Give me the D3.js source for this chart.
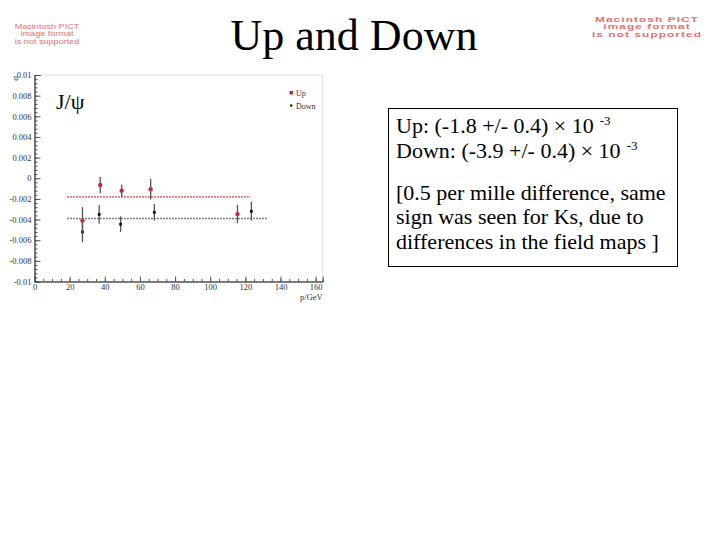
<!DOCTYPE html>
<html>
<head>
<meta charset="utf-8">
<script src="https://cdn.jsdelivr.net/npm/d3@7"></script>
<style>
	html, body { margin: 0; padding: 0; background: #fff; }
	svg { display: block; }
</style>
</head>
<body>
<div id="chart"></div>
<script>
// Data
const upX = [27.3, 37.4, 49.6, 66.1, 115.5];
const upY = [-0.0041, -0.00065, -0.0012, -0.00107, -0.00347];
const upErr = [0.0013, 0.0008, 0.0006, 0.001, 0.0009];

const downX = [27.3, 36.8, 49.0, 68.2, 123.4];
const downY = [-0.0052, -0.0035, -0.00445, -0.0033, -0.0032];
const downErr = [0.001, 0.0009, 0.00075, 0.0008, 0.0009];

const fitNames = ['Up', 'Down'];
const fitValues = [-0.0018, -0.0039];
const fitStart = [18.6, 18.6];
const fitEnd = [122.9, 132.6];

const xTicks = [0, 20, 40, 60, 80, 100, 120, 140, 160];
const yTicks = [0.01, 0.008, 0.006, 0.004, 0.002, 0, -0.002, -0.004, -0.006, -0.008, -0.01];
const yTickLabels = ['0.01', '0.008', '0.006', '0.004', '0.002', '0', '-0.002', '-0.004', '-0.006', '-0.008', '-0.01'];

const resultLines = [
	{ main: 'Up: (-1.8 +/- 0.4) \u00d7  10', sup: '-3' },
	{ main: 'Down:  (-3.9 +/- 0.4) \u00d7  10', sup: '-3' }
];
const commentLines = [
	'[0.5 per mille difference, same',
	'sign was seen for Ks, due to',
	'differences in the field maps ]'
];

const pictLines = ['Macintosh PICT', 'image format', 'is not supported'];

(function() {
	const W = 720, H = 540;
	const upColor = '#c8283c';
	const downColor = '#111';
	const serif = '"Liberation Serif", "Times New Roman", serif';

	const svg = d3.select('#chart').append('svg')
		.attr('width', W)
		.attr('height', H);

	// Title
	svg.append('text')
		.attr('x', 354)
		.attr('y', 50)
		.attr('text-anchor', 'middle')
		.style('font-family', serif)
		.style('font-size', '44px')
		.text('Up and Down');

	// Missing image placeholders
	function pict(cx, y0, size, step, bold, stretch, spacing) {
		const g = svg.append('g')
			.attr('transform', 'translate(' + cx + ',' + y0 + ') scale(' + stretch + ',1)');
		pictLines.forEach(function(t, i) {
			g.append('text')
				.attr('x', 0)
				.attr('y', i * step)
				.attr('text-anchor', 'middle')
				.style('font-family', '"Liberation Sans", Arial, sans-serif')
				.style('font-weight', bold ? 'bold' : 'normal')
				.style('font-size', size + 'px')
				.style('letter-spacing', spacing + 'px')
				.style('fill', '#e27272')
				.text(t);
		});
	}
	pict(47, 28.5, 7, 8, false, 1.3, 0);
	pict(647, 21.5, 6.6, 7.8, true, 1.8, 0.6);

	// Plot
	const x = d3.scaleLinear().domain([0, 164]).range([34.5, 322.7]);
	const y = d3.scaleLinear().domain([-0.01, 0.01]).range([281.5, 75]);

	const plot = svg.append('g');
	const axisColor = '#555';

	// Frame (faint top/right)
	plot.append('rect')
		.attr('x', x(0))
		.attr('y', y(0.01))
		.attr('width', x(164) - x(0))
		.attr('height', y(-0.01) - y(0.01))
		.attr('fill', 'none')
		.attr('stroke', '#e2e2e2')
		.attr('stroke-width', 1);

	// Y axis
	const yMinor = d3.range(-0.01, 0.01 + 1e-9, 0.0004);
	const yMinorAxis = plot.append('g')
		.attr('transform', 'translate(' + x(0) + ',0)')
		.call(d3.axisLeft(y).tickValues(yMinor).tickSize(-3).tickFormat(''));
	const yAxis = plot.append('g')
		.attr('transform', 'translate(' + x(0) + ',0)')
		.call(d3.axisLeft(y).tickValues(yTicks).tickSize(-6).tickPadding(3)
			.tickFormat(function(d, i) { return yTickLabels[i]; }));

	// X axis
	const xMinor = d3.range(0, 164, 5);
	const xMinorAxis = plot.append('g')
		.attr('transform', 'translate(0,' + y(-0.01) + ')')
		.call(d3.axisBottom(x).tickValues(xMinor).tickSize(-2.5).tickFormat(''));
	const xAxis = plot.append('g')
		.attr('transform', 'translate(0,' + y(-0.01) + ')')
		.call(d3.axisBottom(x).tickValues(xTicks).tickSize(-5).tickPadding(2));

	[yMinorAxis, yAxis, xMinorAxis, xAxis].forEach(function(a) {
		a.selectAll('.domain').attr('stroke', axisColor);
		a.selectAll('.tick line').attr('stroke', axisColor);
		a.selectAll('.tick text')
			.style('font-family', serif)
			.style('font-size', '8.5px')
			.style('fill', '#333');
	});
	xAxis.selectAll('.tick text').attr('dy', '0.8em');

	// Axis titles
	plot.append('text')
		.attr('x', x(164))
		.attr('y', 300)
		.attr('text-anchor', 'end')
		.style('font-family', serif)
		.style('font-size', '8.5px')
		.style('fill', '#333')
		.text('p/GeV');

	plot.append('text')
		.attr('transform', 'translate(17.5,' + (y(0.01) + 1) + ') rotate(-90)')
		.attr('text-anchor', 'end')
		.style('font-family', serif)
		.style('font-size', '9px')
		.style('fill', '#333')
		.text('\u03c3');

	plot.append('text')
		.attr('x', 56)
		.attr('y', 109)
		.style('font-family', serif)
		.style('font-size', '22px')
		.text('J/\u03c8');

	// Fit lines
	fitNames.forEach(function(name, i) {
		plot.append('line')
			.attr('x1', x(fitStart[i]))
			.attr('x2', x(fitEnd[i]))
			.attr('y1', y(fitValues[i]))
			.attr('y2', y(fitValues[i]))
			.attr('stroke', i === 0 ? '#dc4c58' : '#555')
			.attr('stroke-width', 1.6)
			.attr('stroke-dasharray', '1.5,1.5');
	});

	// Error bars and points
	function series(xs, ys, errs, color, shape) {
		const g = plot.append('g');
		xs.forEach(function(xv, i) {
			g.append('line')
				.attr('x1', x(xv)).attr('x2', x(xv))
				.attr('y1', y(ys[i] - errs[i]))
				.attr('y2', y(ys[i] + errs[i]))
				.attr('stroke', '#555')
				.attr('stroke-width', 1.3);
			if (shape === 'circle') {
				g.append('circle')
					.attr('cx', x(xv))
					.attr('cy', y(ys[i]))
					.attr('r', 2.2)
					.attr('fill', color);
			} else {
				g.append('rect')
					.attr('x', x(xv) - 1.4)
					.attr('y', y(ys[i]) - 1.4)
					.attr('width', 2.8)
					.attr('height', 2.8)
					.attr('fill', color);
			}
		});
	}
	series(downX, downY, downErr, downColor, 'square');
	series(upX, upY, upErr, upColor, 'circle');

	// Legend
	const legend = plot.append('g');
	legend.append('rect')
		.attr('x', 289.5).attr('y', 91).attr('width', 3.5).attr('height', 3.5)
		.attr('fill', upColor);
	legend.append('text')
		.attr('x', 296).attr('y', 96)
		.style('font-family', serif).style('font-size', '8px').style('fill', '#333')
		.text('Up');
	legend.append('circle')
		.attr('cx', 291.2).attr('cy', 105.5).attr('r', 1.2)
		.attr('fill', downColor);
	legend.append('text')
		.attr('x', 296).attr('y', 108.5)
		.style('font-family', serif).style('font-size', '8px').style('fill', '#333')
		.text('Down');

	// Note box
	svg.append('rect')
		.attr('x', 388.5).attr('y', 108.5)
		.attr('width', 289).attr('height', 158)
		.attr('fill', 'none')
		.attr('stroke', '#000')
		.attr('stroke-width', 1);

	resultLines.forEach(function(line, i) {
		const t = svg.append('text')
			.attr('x', 396)
			.attr('y', 133 + i * 25)
			.style('font-family', serif)
			.style('font-size', '22px')
			.text(line.main);
		t.append('tspan')
			.attr('dx', 6)
			.attr('dy', -8)
			.style('font-size', '13px')
			.text(line.sup);
	});

	commentLines.forEach(function(line, i) {
		svg.append('text')
			.attr('x', 396)
			.attr('y', 200 + i * 24.3)
			.style('font-family', serif)
			.style('font-size', '22px')
			.text(line);
	});
})();
</script>
</body>
</html>
